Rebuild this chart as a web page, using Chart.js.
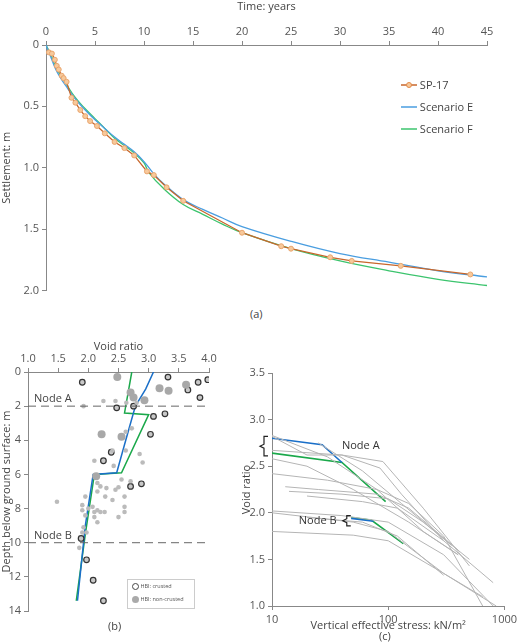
<!DOCTYPE html>
<html><head><meta charset="utf-8">
<script src="https://cdn.jsdelivr.net/npm/chart.js@4/dist/chart.umd.min.js"></script>
<style>
body{margin:0;background:#fff;font-family:"Open Sans",sans-serif;color:#444}
canvas{position:absolute}
.lbl{position:absolute;font-size:11px;color:#444}
.leg{position:absolute;font-size:11px;color:#444}
</style></head><body>
<canvas id="ga" style="left:0;top:0;width:520px;height:300px" width="520" height="300"></canvas>
<canvas id="gb" style="left:0;top:340px;width:230px;height:300px" width="230" height="300"></canvas>
<canvas id="gc" style="left:240px;top:340px;width:280px;height:302px" width="280" height="302"></canvas>
<div class="lbl" style="left:250px;top:306px">(a)</div>
<div class="lbl" style="left:108px;top:618px">(b)</div>
<div class="lbl" style="left:379px;top:628px">(c)</div>
<div class="leg" style="left:401px;top:74px;line-height:22px">
<div><svg width="16" height="8"><line x1="0" y1="4" x2="16" y2="4" stroke="#c8672c" stroke-width="1.5"/><circle cx="8" cy="4" r="2.5" fill="#f7c99b" stroke="#e08a4a"/></svg> SP-17</div>
<div><svg width="16" height="8"><line x1="0" y1="4" x2="16" y2="4" stroke="#4a9ee0" stroke-width="1.5"/></svg> Scenario E</div>
<div><svg width="16" height="8"><line x1="0" y1="4" x2="16" y2="4" stroke="#3cc46e" stroke-width="1.5"/></svg> Scenario F</div>
</div>
<div style="position:absolute;left:127px;top:579px;width:62px;height:28px;border:1px solid #ccc;font-size:5.5px;color:#555;line-height:13px;padding-left:4px">
<div><span style="display:inline-block;width:5px;height:5px;border:1px solid #444;border-radius:50%;vertical-align:middle"></span> HBI: crusted</div>
<div><span style="display:inline-block;width:7px;height:7px;background:#aaa;border-radius:50%;vertical-align:middle"></span> HBI: non-crusted</div>
</div>
<script>
// ---- (a) settlement vs time
const sp17T = [0.3,0.6,0.9,1.1,1.3,1.6,1.8,2.1,2.6,3,3.5,4,4.5,5.2,6,7,8,9,10.3,11,12.3,14,20,24,25,29,31.2,36.2,43.3];
const sp17S = [0.06,0.07,0.12,0.17,0.2,0.25,0.27,0.3,0.43,0.47,0.53,0.58,0.62,0.66,0.72,0.79,0.84,0.9,1.03,1.06,1.16,1.27,1.53,1.64,1.66,1.73,1.76,1.80,1.87];
const scenET = [0,0.5,1,1.5,2,3,4,5,6,7,8,9,10,11,12,14,16,18,20,25,30,35,40,45];
const scenES = [0,0.1,0.2,0.27,0.33,0.44,0.53,0.61,0.68,0.75,0.81,0.87,0.95,1.05,1.13,1.26,1.34,1.41,1.48,1.6,1.7,1.77,1.84,1.89];
const scenFT = [0,0.5,1,2,3,4,5,6,7,8,9,10,10.5,12,14,16,18,20,25,30,35,40,45];
const scenFS = [0,0.08,0.18,0.31,0.43,0.52,0.6,0.68,0.76,0.82,0.88,0.96,1.04,1.17,1.3,1.38,1.46,1.53,1.66,1.76,1.84,1.91,1.96];

// ---- (b) void ratio vs depth
const blueBE = [3.08,2.95,2.78,2.62,2.47,2.08,1.95,1.82];
const blueBD = [0,1,2,4,5.9,6,9,13.4];
const greenBE = [2.72,2.6,3.0,2.55,2.1,1.95,1.8];
const greenBD = [0,2.4,2.5,5.9,6,9.5,13.4];
const crustE = [1.9,2.47,2.75,3.32,3.82,3.98,3.65,3.85,3.08,3.27,3.03,2.38,2.25,2.7,2.88,1.88,1.97,2.08,2.25];
const crustD = [0.6,2.1,2.0,0.3,0.6,0.45,1.05,1.5,2.6,2.45,3.65,4.7,5.2,6.7,6.55,9.75,11,12.2,13.4];
const bigE = [2.48,2.7,2.75,2.93,3.18,3.33,3.62,2.22,2.55,2.13];
const bigD = [0.3,1.2,1.5,1.65,0.95,1.1,0.75,3.65,3.8,6.1];
const smallE = [1.92,2.25,2.45,2.63,2.8,2.72,2.62,2.4,2.62,2.85,2.9,2.42,2.1,2.55,2.15,2.2,2.3,2.45,2.5,2.7,2.6,2.28,2.4,2.15,1.95,1.48,1.9,1.9,2.0,2.07,2.1,2.15,2.2,2.27,2.6,2.6,2.5,2.1,2.15,1.95,1.92,1.9,1.97,1.85];
const smallD = [2.0,1.7,1.7,1.8,1.8,3.3,3.5,4.6,4.6,4.8,5.3,5.5,5.2,6.3,6.5,6.7,6.8,6.9,6.75,6.4,7.3,7.3,7.5,7.0,7.3,7.6,7.8,8.1,8.0,7.9,8.2,8.1,8.2,8.2,7.9,8.2,8.5,8.5,8.8,8.4,9.1,9.4,9.4,10.3];
const nodeDepths = [2, 10];

// ---- (c) void ratio vs stress
const grayCurves = [
  [[10,2.82],[20,2.62],[40,2.62],[85,2.48],[130,2.2],[300,1.7],[800,1.25]],
  [[10,2.67],[40,2.62],[90,2.55],[200,2.05],[500,1.43]],
  [[10,2.58],[20,2.5],[50,2.25],[150,1.9],[400,1.55]],
  [[10,2.42],[30,2.35],[80,2.25],[150,2.1],[300,1.75],[650,1.0]],
  [[13,2.28],[25,2.25],[80,2.2],[150,2.05],[400,1.6]],
  [[14,2.23],[40,2.2],[100,2.15],[200,1.9],[500,1.5]],
  [[20,2.18],[60,2.12],[120,2.05],[300,1.7]],
  [[10,2.02],[40,1.97],[100,1.9],[300,1.55],[800,1.0]],
  [[10,2.0],[50,1.9],[100,1.8],[300,1.35],[650,1.1]],
  [[20,1.95],[60,1.9],[120,1.75],[300,1.33]],
  [[10,1.8],[50,1.76],[100,1.7],[300,1.35],[850,1.0]],
  [[25,2.75],[60,2.45],[130,2.1],[350,1.65]],
  [[10,2.83],[30,2.6],[80,2.25],[200,1.8],[400,1.55]]
];
const nodeABlueS = [10,27,40], nodeABlueE = [2.8,2.73,2.54];
const nodeAGreenS = [10,40,95], nodeAGreenE = [2.64,2.54,2.12];
const nodeBBlueS = [48,75], nodeBBlueE = [1.94,1.91];
const nodeBGreenS = [48,72,135], nodeBGreenE = [1.95,1.92,1.67];

const pts = (xs, ys) => xs.map((x, i) => ({x: x, y: ys[i]}));
const font = {family: "Open Sans", size: 11};
const axCol = "#888";
Chart.defaults.color = "#444";
Chart.defaults.font = font;
Chart.defaults.animation = false;

function axis(extra) {
  return Object.assign({
    grid: {display: true, drawOnChartArea: false, tickLength: 4, color: axCol},
    border: {color: axCol},
    ticks: {color: "#555", font: font, padding: 2}
  }, extra);
}

new Chart(document.getElementById("ga"), {
  type: "scatter",
  data: {datasets: [
    {data: pts(sp17T, sp17S), showLine: true, borderColor: "#c8672c", borderWidth: 1.3, pointRadius: 2.5, pointBackgroundColor: "#f7c99b", pointBorderColor: "#e9a56e", pointBorderWidth: 1},
    {data: pts(scenET, scenES), showLine: true, borderColor: "#4a9ee0", borderWidth: 1.3, pointRadius: 0, tension: 0.4},
    {data: pts(scenFT, scenFS), showLine: true, borderColor: "#3cc46e", borderWidth: 1.3, pointRadius: 0, tension: 0.4}
  ]},
  options: {
    responsive: false, layout: {padding: {right: 33, bottom: 6, top: 0}},
    plugins: {legend: {display: false}, tooltip: {enabled: false}},
    scales: {
      x: axis({position: "top", min: 0, max: 45, ticks: {stepSize: 5, color: "#555", font: font},
        title: {display: true, text: "Time: years", font: font, padding: {top: 0, bottom: 10}},
        afterFit: s => { s.height = 45; }}),
      y: axis({reverse: true, min: 0, max: 2, ticks: {stepSize: 0.5, color: "#555", font: font, callback: v => v === 0 ? "0" : v.toFixed(1)},
        title: {display: true, text: "Settlement: m", font: font, padding: 0},
        afterFit: s => { s.width = 46; }})
    }
  }
});

const nodeLabelsB = {
  id: "nodeLabelsB",
  afterDraw(c) {
    const ctx = c.ctx, y = c.scales.y;
    ctx.save(); ctx.font = "11px 'Open Sans'"; ctx.fillStyle = "#444";
    ctx.fillText("Node A", 34, y.getPixelForValue(2) - 4);
    ctx.fillText("Node B", 34, y.getPixelForValue(10) - 4);
    ctx.restore();
  }
};
new Chart(document.getElementById("gb"), {
  type: "scatter",
  data: {datasets: [
    {data: pts([1,4.0],[nodeDepths[0],nodeDepths[0]]), showLine: true, borderColor: "#666", borderDash: [8,5], borderWidth: 1, pointRadius: 0},
    {data: pts([1,4.0],[nodeDepths[1],nodeDepths[1]]), showLine: true, borderColor: "#666", borderDash: [8,5], borderWidth: 1, pointRadius: 0},
    {data: pts(smallE, smallD), pointRadius: 2.3, backgroundColor: "#bbb", borderWidth: 0},
    {data: pts(bigE, bigD), pointRadius: 4, backgroundColor: "#a8a8a8", borderWidth: 0},
    {data: pts(crustE, crustD), pointRadius: 2.8, backgroundColor: "#c8c8c8", borderColor: "#333", borderWidth: 1.2},
    {data: pts(blueBE, blueBD), showLine: true, borderColor: "#1a6fc8", borderWidth: 1.5, pointRadius: 0},
    {data: pts(greenBE, greenBD), showLine: true, borderColor: "#1aa84a", borderWidth: 1.5, pointRadius: 0}
  ]},
  options: {
    responsive: false, layout: {padding: {right: 21, bottom: 29}},
    plugins: {legend: {display: false}, tooltip: {enabled: false}},
    scales: {
      x: axis({position: "top", min: 1, max: 4, ticks: {stepSize: 0.5, color: "#555", font: font, callback: v => v.toFixed(1)},
        title: {display: true, text: "Void ratio", font: font, padding: 0},
        afterFit: s => { s.height = 32; }}),
      y: axis({reverse: true, min: 0, max: 14, ticks: {stepSize: 2, color: "#555", font: font},
        title: {display: true, text: "Depth below ground surface: m", font: font, padding: 0},
        afterFit: s => { s.width = 28; }})
    }
  },
  plugins: [nodeLabelsB]
});

function brace(ctx, x, y1, y2) {
  const m = (y1 + y2) / 2;
  ctx.beginPath();
  ctx.moveTo(x + 4, y1); ctx.lineTo(x, y1); ctx.lineTo(x, m - 2); ctx.lineTo(x - 4, m);
  ctx.lineTo(x, m + 2); ctx.lineTo(x, y2); ctx.lineTo(x + 4, y2);
  ctx.stroke();
}
const nodeLabelsC = {
  id: "nodeLabelsC",
  afterDraw(c) {
    const ctx = c.ctx, x = c.scales.x, y = c.scales.y;
    ctx.save(); ctx.strokeStyle = "#222"; ctx.lineWidth = 1.2;
    brace(ctx, x.left - 8, y.getPixelForValue(2.82), y.getPixelForValue(2.61));
    brace(ctx, x.getPixelForValue(44), y.getPixelForValue(1.97), y.getPixelForValue(1.86));
    ctx.font = "11px 'Open Sans'"; ctx.fillStyle = "#333";
    ctx.fillText("Node A", x.getPixelForValue(40), y.getPixelForValue(2.68));
    ctx.fillText("Node B", x.getPixelForValue(17), y.getPixelForValue(1.88));
    ctx.restore();
  }
};
const cSets = grayCurves.map(cv => ({data: cv.map(p => ({x: p[0], y: p[1]})), showLine: true, borderColor: "#b5b5b5", borderWidth: 1, pointRadius: 0}));
cSets.push(
  {data: pts(nodeABlueS, nodeABlueE), showLine: true, borderColor: "#1a6fc8", borderWidth: 1.6, pointRadius: 0},
  {data: pts(nodeAGreenS, nodeAGreenE), showLine: true, borderColor: "#1aa84a", borderWidth: 1.6, pointRadius: 0},
  {data: pts(nodeBBlueS, nodeBBlueE), showLine: true, borderColor: "#1a6fc8", borderWidth: 1.6, pointRadius: 0},
  {data: pts(nodeBGreenS, nodeBGreenE), showLine: true, borderColor: "#1aa84a", borderWidth: 1.6, pointRadius: 0}
);
new Chart(document.getElementById("gc"), {
  type: "scatter",
  data: {datasets: cSets},
  options: {
    responsive: false, layout: {padding: {right: 15, bottom: 10, top: 33}},
    plugins: {legend: {display: false}, tooltip: {enabled: false}},
    scales: {
      x: axis({type: "logarithmic", min: 10, max: 1000, ticks: {color: "#555", font: font, callback: v => String(v)},
        afterBuildTicks: s => { s.ticks = [{value: 10}, {value: 100}, {value: 1000}]; },
        title: {display: true, text: "Vertical effective stress: kN/m²", font: font, padding: 0},
        afterFit: s => { s.height = 26; }}),
      y: axis({min: 1, max: 3.5, ticks: {stepSize: 0.5, color: "#555", font: font, callback: v => v.toFixed(1)},
        title: {display: true, text: "Void ratio", font: font, padding: 0},
        afterFit: s => { s.width = 32; }})
    }
  },
  plugins: [nodeLabelsC]
});
</script>
</body></html>
